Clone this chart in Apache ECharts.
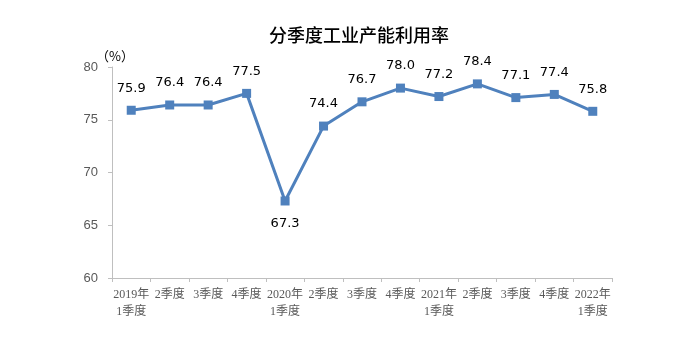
<!DOCTYPE html>
<html><head><meta charset="utf-8">
<script src="https://cdn.jsdelivr.net/npm/echarts@6/dist/echarts.min.js"></script>
<style>html,body{margin:0;padding:0;background:#fff}#c{width:700px;height:341px}</style>
</head><body><div id="c"></div>
<script>
const categories = ['2019年\n1季度','2季度','3季度','4季度','2020年\n1季度','2季度','3季度','4季度','2021年\n1季度','2季度','3季度','4季度','2022年\n1季度'];
const values = [75.9, 76.4, 76.4, 77.5, 67.3, 74.4, 76.7, 78.0, 77.2, 78.4, 77.1, 77.4, 75.8];
const yTicks = [60, 65, 70, 75, 80];
const labelBelow = [4];

const chart = echarts.init(document.getElementById('c'), null, {renderer:'canvas'});
chart.setOption({
  animation: false,
  backgroundColor: '#fff',
  title: {
    text: '分季度工业产能利用率', left: 354, top: 21, textAlign: 'center',
    textStyle: {fontFamily: 'Noto Sans CJK SC', fontSize: 18, fontWeight: 500, color: '#000'}
  },
  graphic: [{type:'text', left: 96, top: 50, style:{text:'（%）', font:'13px "Noto Sans CJK SC"', fill:'#000'}}],
  grid: {left: 112, right: 88, top: 67, bottom: 63},
  xAxis: {
    type: 'category', data: categories, boundaryGap: true,
    axisLine: {lineStyle: {color: '#bfbfbf', width: 1}},
    axisTick: {show: true, length: 4, lineStyle: {color: '#bfbfbf'}},
    axisLabel: {interval: 0, color: '#595959', fontSize: 12, lineHeight: 17, margin: 8,
      fontFamily: '"Liberation Serif", "Noto Sans CJK SC"'}
  },
  yAxis: {
    type: 'value', min: yTicks[0], max: yTicks[yTicks.length-1], interval: 5,
    axisLine: {show: true, lineStyle: {color: '#bfbfbf'}},
    axisTick: {show: true, length: 4, lineStyle: {color: '#bfbfbf'}},
    splitLine: {show: false},
    axisLabel: {color: '#595959', fontSize: 13, margin: 14, fontFamily: '"Liberation Sans", Arial, sans-serif'}
  },
  series: [{
    type: 'line', data: values.map((v,i)=>({value:v, label: labelBelow.includes(i)?{position:'bottom', distance: 12}:undefined})),
    symbol: 'rect', symbolSize: 9,
    lineStyle: {color: '#4f81bd', width: 3},
    itemStyle: {color: '#4f81bd'},
    label: {show: true, position: 'top', distance: 11, color: '#000', fontSize: 13,
      fontFamily: '"DejaVu Sans", sans-serif', formatter: p => p.value.toFixed(1)}
  }]
});
</script></body></html>
